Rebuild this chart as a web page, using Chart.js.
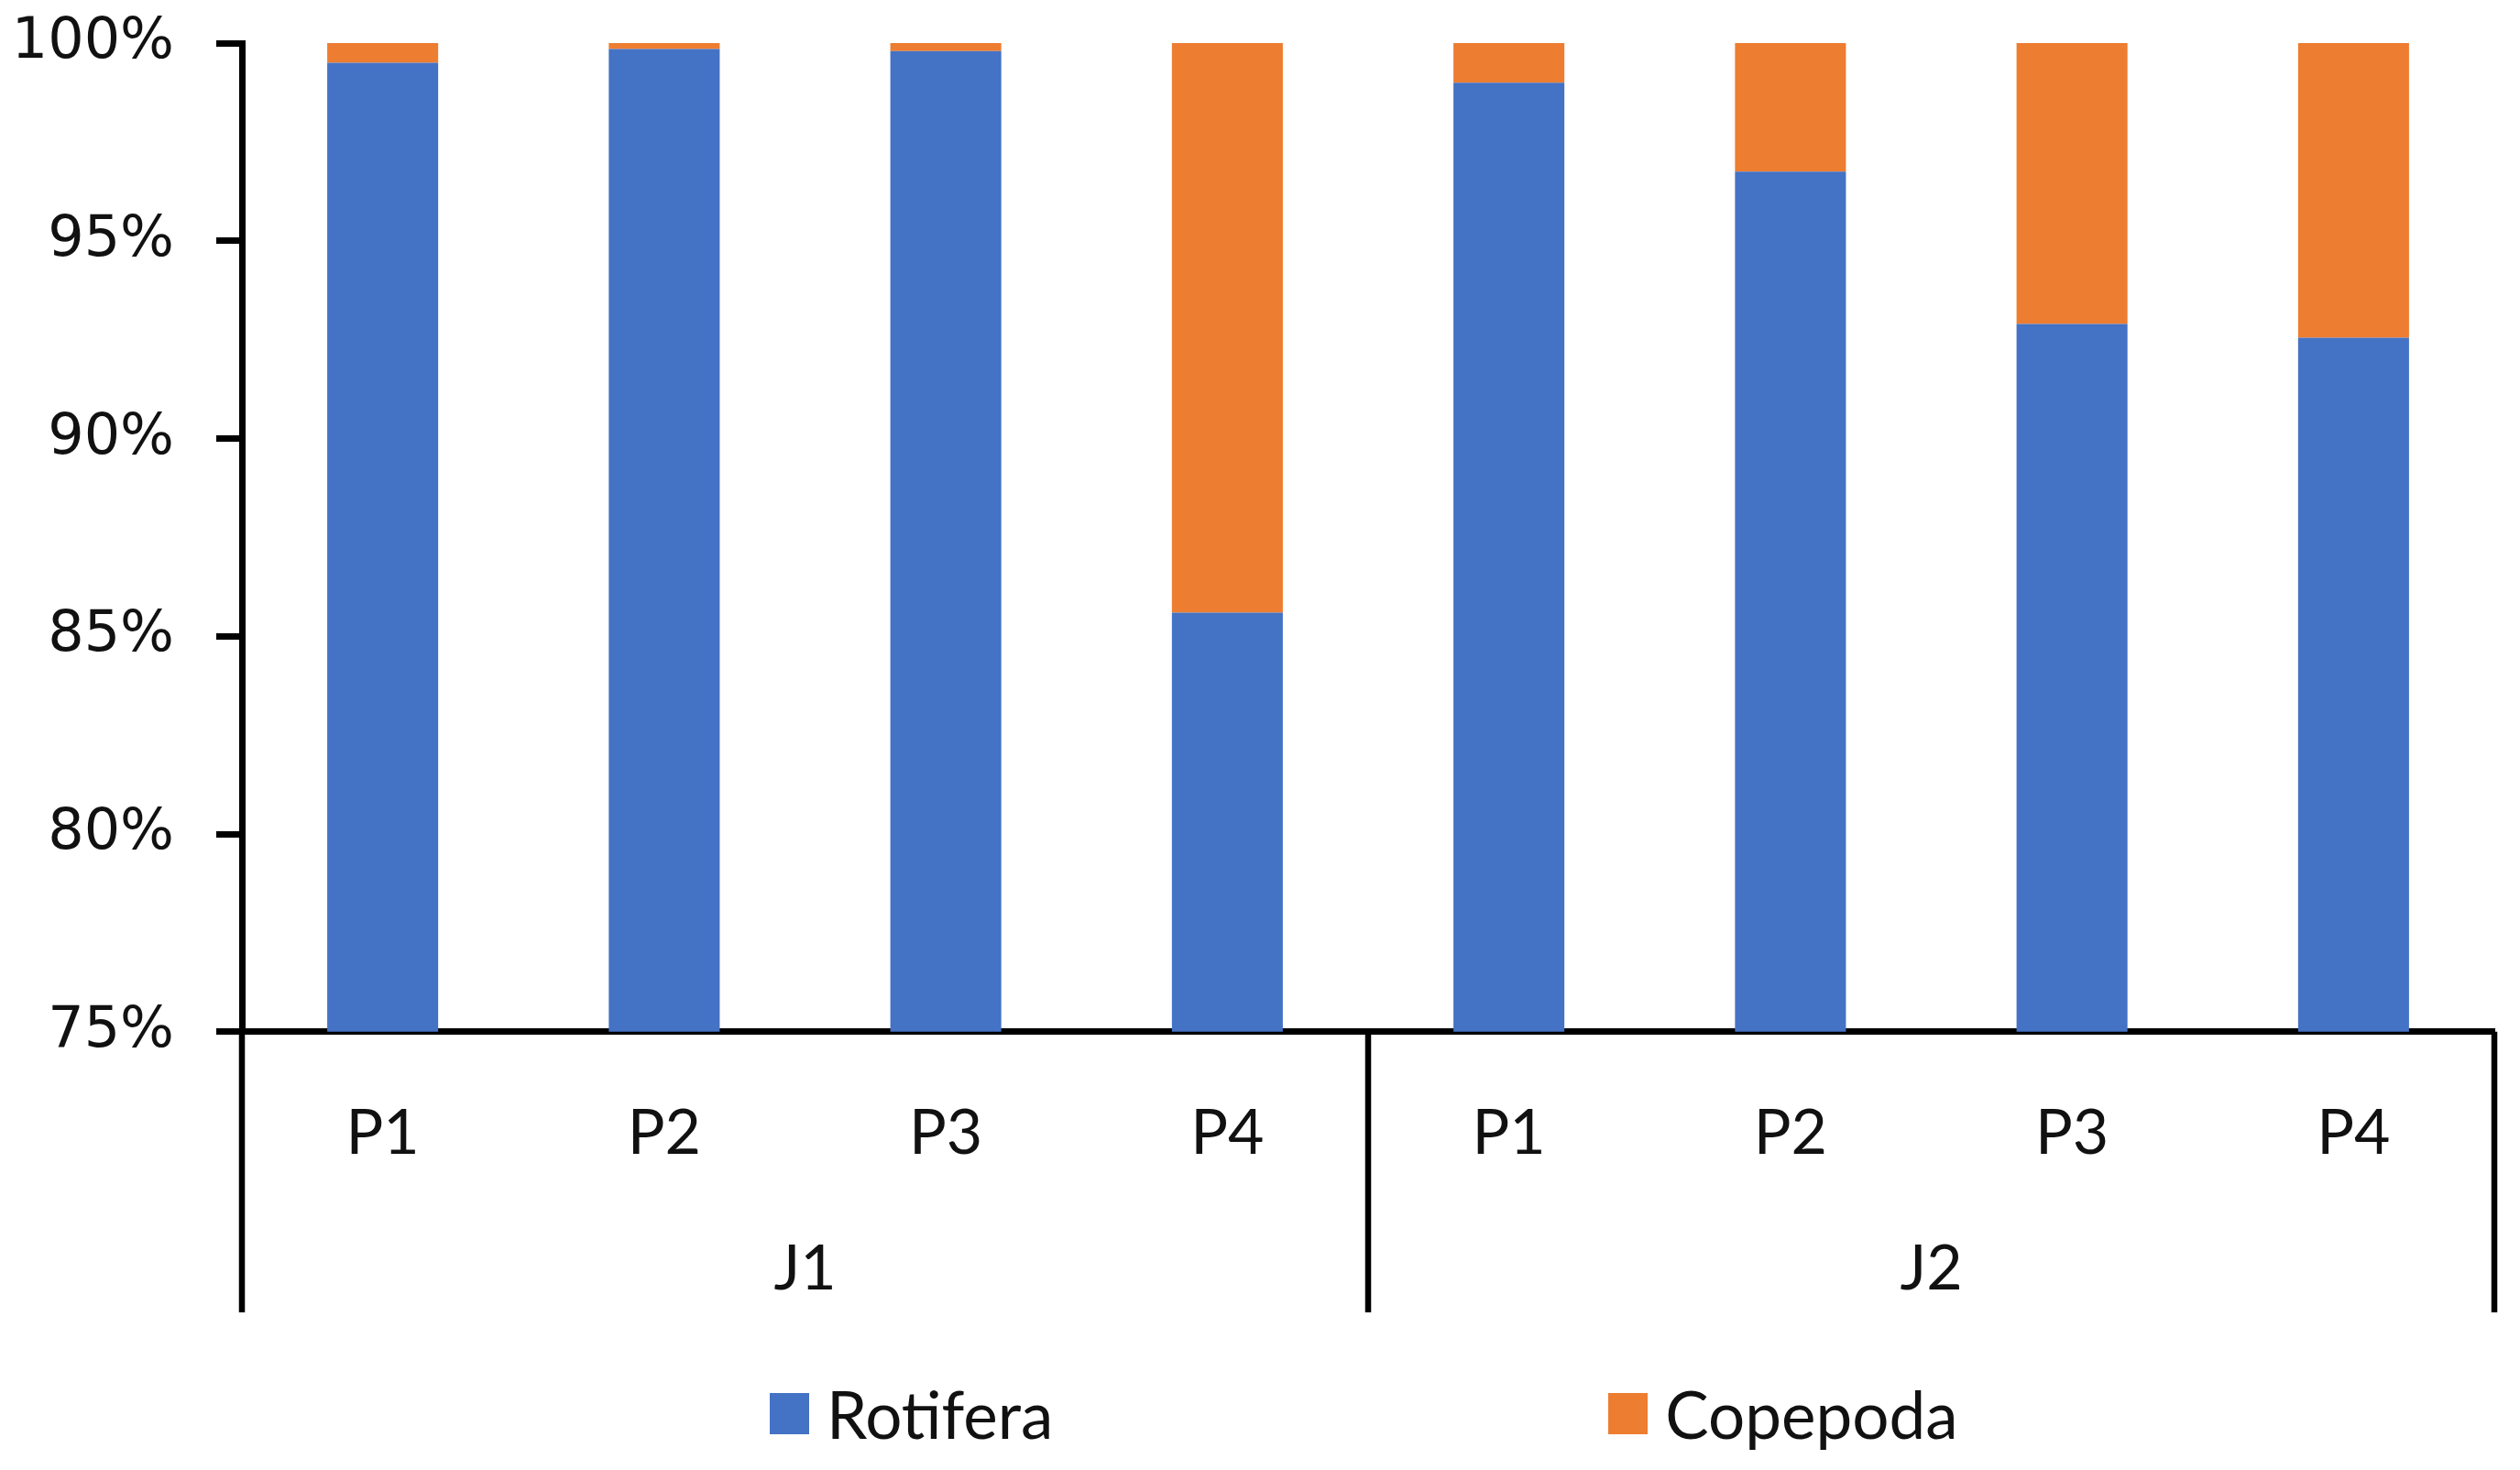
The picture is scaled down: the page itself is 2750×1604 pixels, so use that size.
<!DOCTYPE html>
<html>
<head>
<meta charset="utf-8">
<script src="https://cdn.jsdelivr.net/npm/chart.js@4"></script>
<style>
  body { margin: 0; background: #fff; }
  #wrap { position: relative; width: 2750px; height: 1604px; }
  #leyenda { position: absolute; left: 840px; top: 1500px; display: flex; align-items: center; font-family: Lato, sans-serif; font-size: 71px; color: #111; }
  .item { display: flex; align-items: center; }
  .item + .item { margin-left: 606px; }
  .caja { width: 43px; height: 45px; margin-right: 19px; }
</style>
</head>
<body>
<div id="wrap">
  <canvas id="grafica"></canvas>
  <div id="leyenda"></div>
</div>
<script>
// datos (% de abundancia)
const sitios = ["P1", "P2", "P3", "P4", "P1", "P2", "P3", "P4"];
const grupos = ["J1", "J2"];
const rotifera = [99.5, 99.85, 99.8, 85.6, 99.0, 96.75, 92.9, 92.55];
const copepoda = [0.5, 0.15, 0.2, 14.4, 1.0, 3.25, 7.1, 7.45];
const ticksY = [75, 80, 85, 90, 95, 100];

// líneas verticales que separan J1 y J2 bajo el eje
const separadores = {
  id: "separadores",
  afterDraw(chart) {
    const x = chart.scales.x;
    const x2 = chart.scales.x2;
    const ctx = chart.ctx;
    const paso = (x.right - x.left) / sitios.length;
    const posiciones = [x.left, x.left + paso * 4, x.right];
    ctx.save();
    ctx.strokeStyle = "#000";
    ctx.lineWidth = 6.5;
    posiciones.forEach(px => {
      ctx.beginPath();
      ctx.moveTo(px, chart.chartArea.bottom);
      ctx.lineTo(px, x2.bottom + 9);
      ctx.stroke();
    });
    ctx.restore();
  }
};

const grafica = new Chart(document.getElementById("grafica"), {
  type: "bar",
  data: {
    labels: sitios,
    datasets: [
      { label: "Rotifera", data: rotifera, backgroundColor: "#4472C4" },
      { label: "Copepoda", data: copepoda, backgroundColor: "#ED7D31" }
    ]
  },
  options: {
    responsive: true,
    maintainAspectRatio: false,
    animation: false,
    datasets: { bar: { categoryPercentage: 1, barPercentage: 0.394 } },
    layout: { padding: { left: 17, right: 28, top: 47, bottom: 181 } },
    plugins: {
      legend: { display: false },
      tooltip: { enabled: false }
    },
    scales: {
      y: {
        stacked: true,
        min: 75,
        max: 100,
        afterBuildTicks: s => { s.ticks = ticksY.map(v => ({ value: v })); },
        // ancho fijo del eje y sin margen extra arriba/abajo
        afterFit: s => { s.width = 247; s.paddingTop = 0; s.paddingBottom = 0; },
        ticks: {
          callback: v => v + "%",
          font: { family: "DejaVu Sans", size: 62 },
          color: "#111",
          padding: 46
        },
        grid: { drawOnChartArea: false, tickLength: 28, color: "#000", lineWidth: 7 },
        border: { color: "#000", width: 7 }
      },
      x: {
        stacked: true,
        weight: 0,
        ticks: { font: { family: "Lato", size: 68 }, color: "#111", padding: 62 },
        grid: { display: false },
        border: { color: "#000", width: 7 }
      },
      x2: {
        type: "category",
        position: "bottom",
        weight: 1,
        labels: grupos,
        offset: true,
        ticks: { font: { family: "Lato", size: 68 }, color: "#111", padding: -3 },
        grid: { display: false },
        border: { display: false }
      }
    }
  },
  plugins: [separadores]
});

// leyenda en HTML con los mismos colores de las series
const leyenda = document.getElementById("leyenda");
grafica.data.datasets.forEach(ds => {
  const item = document.createElement("div");
  item.className = "item";
  const caja = document.createElement("span");
  caja.className = "caja";
  caja.style.background = ds.backgroundColor;
  const texto = document.createElement("span");
  texto.textContent = ds.label;
  item.appendChild(caja);
  item.appendChild(texto);
  leyenda.appendChild(item);
});
</script>
</body>
</html>
